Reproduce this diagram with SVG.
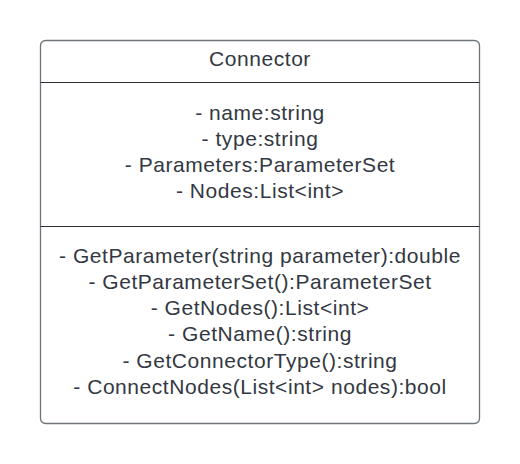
<svg xmlns="http://www.w3.org/2000/svg" width="520" height="464" viewBox="0 0 520 464">
<style>
.t{font-family:"Liberation Sans",Arial,sans-serif;font-size:21px;letter-spacing:0.55px;fill:#333842;text-anchor:middle}
.sep{stroke:#2b3038;stroke-width:1.2}
</style>
<rect width="520" height="464" fill="#ffffff"/>
<g id="connector-class">
<rect x="40.5" y="40.5" width="439" height="383" rx="5" ry="5" fill="#ffffff" stroke="#6f737a" stroke-width="1.3"/>
<line class="sep" x1="40.5" y1="82.5" x2="479.5" y2="82.5"/>
<line class="sep" x1="40.5" y1="226.5" x2="479.5" y2="226.5"/>
<text class="t" x="260" y="66">Connector</text>
<text class="t" x="260" y="119.5">- name:string</text>
<text class="t" x="260" y="145.5">- type:string</text>
<text class="t" x="260" y="171.5">- Parameters:ParameterSet</text>
<text class="t" x="260" y="197.5">- Nodes:List&lt;int&gt;</text>
<text class="t" x="260" y="262.6">- GetParameter(string parameter):double</text>
<text class="t" x="260" y="288.9">- GetParameterSet():ParameterSet</text>
<text class="t" x="260" y="315.1">- GetNodes():List&lt;int&gt;</text>
<text class="t" x="260" y="341.4">- GetName():string</text>
<text class="t" x="260" y="367.6">- GetConnectorType():string</text>
<text class="t" x="260" y="393.9">- ConnectNodes(List&lt;int&gt; nodes):bool</text>
</g>
<g id="connectors"></g>
</svg>
